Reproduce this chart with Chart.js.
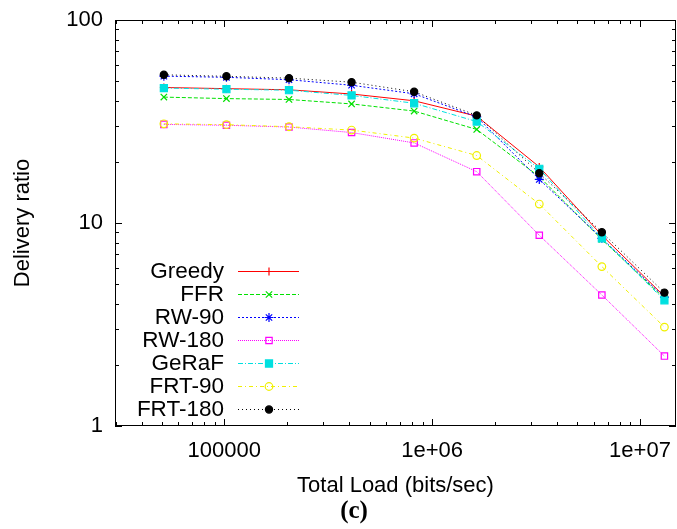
<!DOCTYPE html>
<html>
<head>
<meta charset="utf-8">
<title>Delivery ratio vs total load</title>
<script src="https://cdn.jsdelivr.net/npm/chart.js@4/dist/chart.umd.min.js"></script>
<style>
  html, body { margin: 0; padding: 0; background: #fff; }
  #chart { display: block; }
</style>
</head>
<body>
<canvas id="chart" width="677" height="529"></canvas>
<script>
// total load in bits/sec (x axis)
const loads = [51200, 102400, 204800, 409600, 819200, 1638400, 3276800, 6553600, 13107200];

// delivery ratio for each protocol
const greedy = [46.5, 45.9, 45.3, 43.2, 40.0, 33.6, 18.9, 8.7, 4.35];
const ffr = [41.7, 41.0, 40.6, 38.6, 35.6, 28.9, 16.9, 8.3, 4.25];
const rw90 = [52.9, 52.2, 50.8, 47.7, 43.3, 33.3, 16.4, 8.4, 4.3];
const rw180 = [30.6, 30.3, 29.7, 27.9, 24.8, 17.9, 8.7, 4.42, 2.21];
const geraf = [46.2, 45.6, 45.1, 42.5, 38.9, 31.6, 18.5, 8.4, 4.16];
const frt90 = [30.8, 30.5, 29.8, 28.7, 26.2, 21.5, 12.4, 6.1, 3.07];
const frt180 = [53.7, 52.8, 51.7, 49.4, 44.3, 33.9, 17.6, 9.0, 4.54];

const seriesNames = ["Greedy", "FFR", "RW-90", "RW-180", "GeRaF", "FRT-90", "FRT-180"];
const seriesValues = [greedy, ffr, rw90, rw180, geraf, frt90, frt180];

const xTickValues = [100000, 1000000, 10000000];
const xTickLabels = ["100000", "1e+06", "1e+07"];
const yTickValues = [1, 10, 100];
const yTickLabels = ["1", "10", "100"];

const xTitle = "Total Load (bits/sec)";
const yTitle = "Delivery ratio";
const panelLabel = "(c)";

// line look for each series (gnuplot style)
const styles = [
  { color: "#ff0000", dash: [], point: "cross", radius: 4, fill: false },
  { color: "#00e000", dash: [4, 2], point: "crossRot", radius: 4.5, fill: false },
  { color: "#0000ff", dash: [2, 2], point: "star", radius: 4.5, fill: false },
  { color: "#ff00ff", dash: [1, 1], point: "rect", radius: 4.5, fill: false },
  { color: "#00e0e0", dash: [5, 2, 1, 2], point: "rect", radius: 5, fill: true },
  { color: "#f0f000", dash: [4, 3, 1, 3], point: "circle", radius: 3.8, fill: false },
  { color: "#000000", dash: [1, 3], point: "circle", radius: 3.6, fill: true }
];

const sansFont = "'Liberation Sans', Arial, Helvetica, sans-serif";

const datasets = seriesValues.map((values, i) => {
  const s = styles[i];
  return {
    label: seriesNames[i],
    data: values.map((v, j) => ({ x: loads[j], y: v })),
    borderColor: s.color,
    backgroundColor: s.fill ? s.color : "rgba(0,0,0,0)",
    borderWidth: 1,
    borderDash: s.dash,
    pointStyle: s.point,
    pointRadius: s.radius,
    pointBorderWidth: 1.2,
    pointBorderColor: s.color,
    pointBackgroundColor: s.fill ? s.color : "rgba(0,0,0,0)",
    tension: 0,
    order: seriesNames.length - i
  };
});

// drop the extra room Chart.js keeps for the end labels
function noScalePadding(scale) {
  scale.paddingTop = 0;
  scale.paddingBottom = 0;
  scale.paddingLeft = 0;
  scale.paddingRight = 0;
}

// frame with inward tick marks on all four sides, like gnuplot
const framePlugin = {
  id: "frame",
  afterDatasetsDraw(chart) {
    const ctx = chart.ctx;
    const area = chart.chartArea;
    const xs = chart.scales.x;
    const ys = chart.scales.y;
    ctx.save();
    ctx.strokeStyle = "#000";
    ctx.lineWidth = 1;
    ctx.setLineDash([]);
    ctx.strokeRect(area.left + 0.5, area.top + 0.5, area.right - area.left - 1, area.bottom - area.top - 1);

    ctx.beginPath();
    for (let p = 4; p <= 7; p++) {
      for (let m = 1; m <= 9; m++) {
        const v = m * Math.pow(10, p);
        if (v < xs.min || v > xs.max) continue;
        const len = m === 1 ? 7 : 4;
        const px = Math.round(xs.getPixelForValue(v)) + 0.5;
        ctx.moveTo(px, area.bottom);
        ctx.lineTo(px, area.bottom - len);
        ctx.moveTo(px, area.top);
        ctx.lineTo(px, area.top + len);
      }
    }
    for (let p = 0; p <= 2; p++) {
      for (let m = 1; m <= 9; m++) {
        const v = m * Math.pow(10, p);
        if (v < ys.min || v > ys.max) continue;
        const len = m === 1 ? 7 : 4;
        const py = Math.round(ys.getPixelForValue(v)) + 0.5;
        ctx.moveTo(area.left, py);
        ctx.lineTo(area.left + len, py);
        ctx.moveTo(area.right, py);
        ctx.lineTo(area.right - len, py);
      }
    }
    ctx.stroke();
    ctx.restore();
  }
};

// legend inside the plot: text right aligned, then a line sample with marker
const keyPlugin = {
  id: "key",
  afterDraw(chart) {
    const ctx = chart.ctx;
    const textRight = 224;
    const lineLeft = 238;
    const lineRight = 299;
    const firstRow = 271;
    const rowStep = 23;
    ctx.save();
    chart.data.datasets.forEach((ds, i) => {
      const y = firstRow + i * rowStep;
      ctx.font = "22.5px " + sansFont;
      ctx.fillStyle = "#000";
      ctx.textAlign = "right";
      ctx.textBaseline = "middle";
      ctx.fillText(ds.label, textRight, y + 1);

      ctx.strokeStyle = ds.borderColor;
      ctx.lineWidth = 1;
      ctx.setLineDash(ds.borderDash);
      ctx.beginPath();
      ctx.moveTo(lineLeft, y + 0.5);
      ctx.lineTo(lineRight, y + 0.5);
      ctx.stroke();

      ctx.setLineDash([]);
      ctx.fillStyle = ds.pointBackgroundColor;
      ctx.strokeStyle = ds.pointBorderColor;
      ctx.lineWidth = ds.pointBorderWidth;
      if (Chart.helpers && Chart.helpers.drawPoint) {
        Chart.helpers.drawPoint(ctx, {
          pointStyle: ds.pointStyle,
          rotation: 0,
          radius: ds.pointRadius,
          borderWidth: ds.pointBorderWidth
        }, 269, y + 0.5);
      }
    });

    // panel label under the axis title
    ctx.font = "bold 25px 'Liberation Serif', 'Times New Roman', serif";
    ctx.fillStyle = "#000";
    ctx.textAlign = "center";
    ctx.textBaseline = "middle";
    ctx.fillText(panelLabel, 354, 512);
    ctx.restore();
  }
};

const ctx = document.getElementById("chart").getContext("2d");

new Chart(ctx, {
  type: "line",
  data: { datasets: datasets },
  options: {
    responsive: false,
    animation: false,
    layout: { autoPadding: false, padding: { top: 20, right: 1, left: 0, bottom: 30 } },
    plugins: {
      legend: { display: false },
      tooltip: { enabled: false },
      title: { display: false }
    },
    scales: {
      x: {
        type: "logarithmic",
        min: 29800,
        max: 14900000,
        // grid hidden, tickLength only used as the gap above the labels
        grid: { display: false, drawTicks: true, tickLength: 12 },
        border: { display: false },
        afterBuildTicks(scale) {
          scale.ticks = xTickValues.map((v) => ({ value: v }));
        },
        afterFit(scale) {
          scale.height = 73;
          noScalePadding(scale);
        },
        ticks: {
          autoSkip: false,
          maxRotation: 0,
          padding: 0,
          color: "#000",
          font: { family: sansFont, size: 22 },
          callback: (value) => {
            const k = xTickValues.indexOf(value);
            return k >= 0 ? xTickLabels[k] : "";
          }
        },
        title: {
          display: true,
          text: xTitle,
          color: "#000",
          font: { family: sansFont, size: 22 },
          padding: { top: 0, bottom: 0 }
        }
      },
      y: {
        type: "logarithmic",
        min: 1,
        max: 100,
        grid: { display: false, drawTicks: true, tickLength: 12 },
        border: { display: false },
        afterBuildTicks(scale) {
          scale.ticks = yTickValues.map((v) => ({ value: v }));
        },
        afterFit(scale) {
          scale.width = 115;
          noScalePadding(scale);
        },
        ticks: {
          autoSkip: false,
          padding: 0,
          color: "#000",
          font: { family: sansFont, size: 22 },
          callback: (value) => {
            const k = yTickValues.indexOf(value);
            return k >= 0 ? yTickLabels[k] : "";
          }
        },
        title: {
          display: true,
          text: yTitle,
          color: "#000",
          font: { family: sansFont, size: 22 },
          padding: { top: 10, bottom: 0 }
        }
      }
    }
  },
  plugins: [framePlugin, keyPlugin]
});
</script>
</body>
</html>
